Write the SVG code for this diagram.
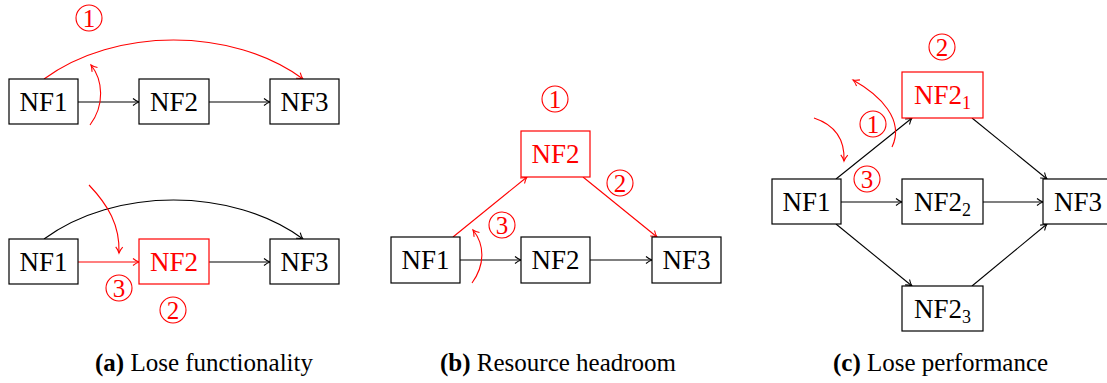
<svg xmlns="http://www.w3.org/2000/svg" width="1107" height="383" viewBox="0 0 1107 383">
<defs>
<marker id="ab" markerWidth="10" markerHeight="10" refX="8" refY="5" orient="auto" markerUnits="userSpaceOnUse">
<path d="M2,1.5 Q5,4 8,5 Q5,6 2,8.5" fill="none" stroke="#000" stroke-width="1.1"/>
</marker>
<marker id="ar" markerWidth="10" markerHeight="10" refX="8" refY="5" orient="auto" markerUnits="userSpaceOnUse">
<path d="M2,1.5 Q5,4 8,5 Q5,6 2,8.5" fill="none" stroke="#ff0000" stroke-width="1.1"/>
</marker>
</defs>

<g id="connectors" fill="none" stroke-width="1.1">
<g stroke="#000" marker-end="url(#ab)">
<path d="M78,102 L139,102"/>
<path d="M209,102 L270,102"/>
<path d="M44,239 C115,187 232,187 303,239"/>
<path d="M209,262 L270,262"/>
<path d="M460,260 L521,260"/>
<path d="M590,260 L652,260"/>
<path d="M836,179 L912,118"/>
<path d="M972,118 L1047,179"/>
<path d="M841,202 L902,202"/>
<path d="M983,202 L1043,202"/>
<path d="M836,224 L912,286"/>
<path d="M972,286 L1047,224"/>
</g>
<g stroke="#ff0000" marker-end="url(#ar)">
<path d="M44,79 C115,27 232,27 303,79"/>
<path d="M90,125 C105,105 103,80 91,65"/>
<path d="M78,262 L139,262"/>
<path d="M89,185 C108,205 120,225 119,253"/>
<path d="M453,237 L527,177"/>
<path d="M583,177 L657,237"/>
<path d="M472,283 C485,265 485,245 473,230"/>
<path d="M892,147 C905,120 880,95 853,80"/>
<path d="M814,118 C835,125 845,140 844,161"/>
</g>
</g>

<g stroke-width="1.2">
<g id="a-nf1-top"><rect fill="#fff" stroke="#000" x="9" y="79" width="69" height="45"/><text x="19.5" y="111" font-family="Liberation Serif" font-size="27" fill="#000">NF1</text></g>
<g id="a-nf2-top"><rect fill="#fff" stroke="#000" x="139" y="79" width="70" height="45"/><text x="150" y="111" font-family="Liberation Serif" font-size="27" fill="#000">NF2</text></g>
<g id="a-nf3-top"><rect fill="#fff" stroke="#000" x="270" y="79" width="69" height="45"/><text x="280.5" y="111" font-family="Liberation Serif" font-size="27" fill="#000">NF3</text></g>
<g id="a-nf1-bot"><rect fill="#fff" stroke="#000" x="9" y="239" width="69" height="45"/><text x="19.5" y="271" font-family="Liberation Serif" font-size="27" fill="#000">NF1</text></g>
<g id="a-nf2-bot"><rect fill="#fff" stroke="#ff0000" x="139" y="239" width="70" height="45"/><text x="150" y="271" font-family="Liberation Serif" font-size="27" fill="#ff0000">NF2</text></g>
<g id="a-nf3-bot"><rect fill="#fff" stroke="#000" x="270" y="239" width="69" height="45"/><text x="280.5" y="271" font-family="Liberation Serif" font-size="27" fill="#000">NF3</text></g>
<g id="b-nf1"><rect fill="#fff" stroke="#000" x="391" y="237" width="69" height="46"/><text x="401.5" y="269" font-family="Liberation Serif" font-size="27" fill="#000">NF1</text></g>
<g id="b-nf2"><rect fill="#fff" stroke="#000" x="521" y="237" width="69" height="46"/><text x="531.5" y="269" font-family="Liberation Serif" font-size="27" fill="#000">NF2</text></g>
<g id="b-nf3"><rect fill="#fff" stroke="#000" x="652" y="237" width="69" height="46"/><text x="662.5" y="269" font-family="Liberation Serif" font-size="27" fill="#000">NF3</text></g>
<g id="b-nf2-top"><rect fill="#fff" stroke="#ff0000" x="521" y="131" width="69" height="46"/><text x="531.5" y="163" font-family="Liberation Serif" font-size="27" fill="#ff0000">NF2</text></g>
<g id="c-nf1"><rect fill="#fff" stroke="#000" x="772" y="179" width="69" height="45"/><text x="782.5" y="211" font-family="Liberation Serif" font-size="27" fill="#000">NF1</text></g>
<g id="c-nf21"><rect fill="#fff" stroke="#ff0000" x="902" y="72" width="81" height="46"/><text x="914" y="104" font-family="Liberation Serif" font-size="27" fill="#ff0000">NF2<tspan font-size="18" dy="5">1</tspan></text></g>
<g id="c-nf22"><rect fill="#fff" stroke="#000" x="902" y="179" width="81" height="45"/><text x="914" y="211" font-family="Liberation Serif" font-size="27" fill="#000">NF2<tspan font-size="18" dy="5">2</tspan></text></g>
<g id="c-nf23"><rect fill="#fff" stroke="#000" x="902" y="286" width="81" height="45"/><text x="914" y="318" font-family="Liberation Serif" font-size="27" fill="#000">NF2<tspan font-size="18" dy="5">3</tspan></text></g>
<g id="c-nf3"><rect fill="#fff" stroke="#000" x="1043" y="179" width="70" height="45"/><text x="1054" y="211" font-family="Liberation Serif" font-size="27" fill="#000">NF3</text></g>
</g>

<g fill="none" stroke="#ff0000" stroke-width="1.1">
<g id="a-n1"><circle cx="89" cy="18" r="13"/><text x="82.75" y="26.5" font-family="Liberation Serif" font-size="25" fill="#ff0000" stroke="none">1</text></g>
<g id="a-n3"><circle cx="119" cy="288" r="13"/><text x="112.75" y="296.5" font-family="Liberation Serif" font-size="25" fill="#ff0000" stroke="none">3</text></g>
<g id="a-n2"><circle cx="173" cy="310" r="13"/><text x="166.75" y="318.5" font-family="Liberation Serif" font-size="25" fill="#ff0000" stroke="none">2</text></g>
<g id="b-n1"><circle cx="555" cy="99" r="13"/><text x="548.75" y="107.5" font-family="Liberation Serif" font-size="25" fill="#ff0000" stroke="none">1</text></g>
<g id="b-n2"><circle cx="620" cy="183" r="13"/><text x="613.75" y="191.5" font-family="Liberation Serif" font-size="25" fill="#ff0000" stroke="none">2</text></g>
<g id="b-n3"><circle cx="502" cy="225" r="13"/><text x="495.75" y="233.5" font-family="Liberation Serif" font-size="25" fill="#ff0000" stroke="none">3</text></g>
<g id="c-n1"><circle cx="873" cy="124" r="13"/><text x="866.75" y="132.5" font-family="Liberation Serif" font-size="25" fill="#ff0000" stroke="none">1</text></g>
<g id="c-n3"><circle cx="867" cy="179" r="13"/><text x="860.75" y="187.5" font-family="Liberation Serif" font-size="25" fill="#ff0000" stroke="none">3</text></g>
<g id="c-n2"><circle cx="942" cy="47" r="13"/><text x="935.75" y="55.5" font-family="Liberation Serif" font-size="25" fill="#ff0000" stroke="none">2</text></g>
</g>

<g id="captions">
<text x="95" y="371" font-family="Liberation Serif" font-size="25" fill="#000"><tspan font-weight="bold">(a)</tspan> Lose functionality</text>
<text x="440" y="371" font-family="Liberation Serif" font-size="25" fill="#000"><tspan font-weight="bold">(b)</tspan> Resource headroom</text>
<text x="833" y="371" font-family="Liberation Serif" font-size="25" fill="#000"><tspan font-weight="bold">(c)</tspan> Lose performance</text>
</g>
</svg>
